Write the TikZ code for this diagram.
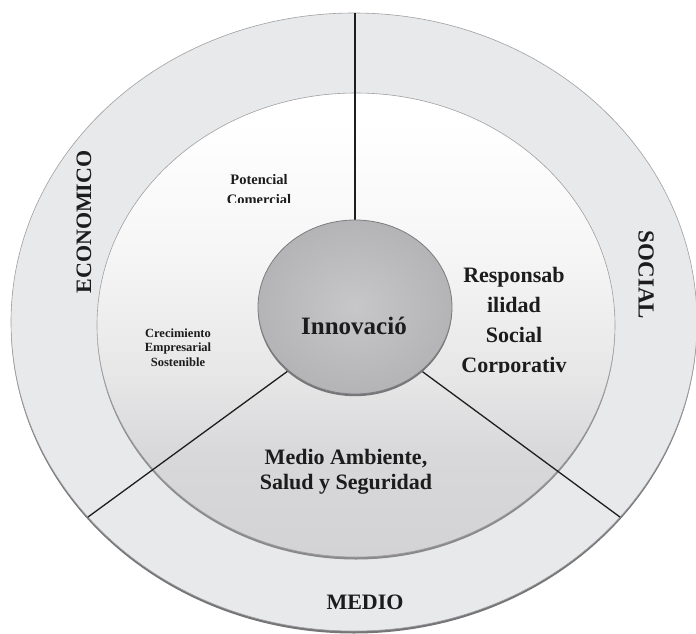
\documentclass[tikz,border=0pt]{standalone}
\usepackage{fontspec}
\setmainfont{Liberation Serif}
\usetikzlibrary{shapes.geometric}
\definecolor{ringc}{RGB}{232,233,235}
\definecolor{ringedge}{RGB}{160,160,162}
\definecolor{shadowc}{RGB}{118,118,120}
\definecolor{coreedge}{RGB}{125,125,127}
\definecolor{corein}{RGB}{199,199,201}
\definecolor{coreout}{RGB}{180,180,182}
\definecolor{innerbot}{RGB}{211,211,213}
\definecolor{innerlow}{RGB}{216,216,218}
\definecolor{innermid}{RGB}{230,230,231}
\definecolor{innerhi}{RGB}{246,246,246}
\definecolor{txt}{RGB}{28,28,28}
\definecolor{linec}{RGB}{30,30,30}
\pgfdeclareverticalshading{innershade}{100bp}{color(0bp)=(innerbot); color(25bp)=(innerbot); color(36bp)=(innerlow); color(44bp)=(innermid); color(58bp)=(innerhi); color(72bp)=(white); color(100bp)=(white)}
\begin{document}
\begin{tikzpicture}[x=1pt,y=-1pt,
  lbl/.style={text=txt, inner sep=0pt, align=center},
  divider/.style={draw=linec, line width=1.3pt}]
\useasboundingbox (0,0) rectangle (696,634);
\fill[white] (0,0) rectangle (696,634);
% outer ring
\fill[shadowc] (354,324.5) ellipse [x radius=343pt, y radius=309pt];
\filldraw[fill=ringc, draw=ringedge, line width=0.6pt] (354,322) ellipse [x radius=343pt, y radius=309pt];
% inner disk
\fill[shadowc!85] (356,327.5) ellipse [x radius=259pt, y radius=232pt];
\shadedraw[shading=innershade, draw=ringedge, line width=0.6pt] (356,325) ellipse [x radius=259pt, y radius=232pt];
% dividers
\coordinate (hub) at (355,322);
\coordinate (tfar) at (355,-20);
\coordinate (lfar) at (-45.5,614.5);
\coordinate (rfar) at (758.5,619);
\begin{scope}
  \clip (354,322) ellipse [x radius=343pt, y radius=309pt];
  \draw[divider] (hub) -- (tfar);
  \draw[divider] (hub) -- (lfar);
  \draw[divider] (hub) -- (rfar);
\end{scope}
% core
\fill[shadowc] (355,309.2) ellipse [x radius=97pt, y radius=87pt];
\node[ellipse, minimum width=194pt, minimum height=174pt, inner sep=0pt, shade,
      inner color=corein, outer color=coreout, draw=coreedge, line width=0.8pt] (core) at (355,307) {};
% labels
\node[lbl, font=\bfseries\fontsize{25}{28}\selectfont] (innov) at (354,326) {Innovació};
\node[lbl, rotate=90, font=\bfseries\fontsize{22}{24}\selectfont] (eco) at (84,222) {ECONOMICO};
\node[lbl, rotate=-90, font=\bfseries\fontsize{23}{25}\selectfont] (soc) at (646,275) {SOCIAL};
\node[lbl, font=\bfseries\fontsize{22}{24}\selectfont] (med) at (365,602) {MEDIO};
\node[lbl, font=\bfseries\fontsize{22}{25}\selectfont] (mas) at (346,472) {Medio Ambiente,\\Salud y Seguridad};
\node[lbl, font=\bfseries\fontsize{12.5}{14.5}\selectfont] (ces) at (178,347.5) {Crecimiento\\Empresarial\\Sostenible};
\begin{scope}
  \clip (200,160) rectangle (320,202);
  \node[lbl, font=\bfseries\fontsize{14.5}{20}\selectfont] (pc) at (259,190) {Potencial\\Comercial};
\end{scope}
\begin{scope}
  \clip (440,240) rectangle (600,372.5);
  \node[lbl, font=\bfseries\fontsize{22}{30}\selectfont] (rsc) at (514,322) {Responsab\\ilidad\\Social\\Corporativ};
\end{scope}
\end{tikzpicture}
\end{document}
